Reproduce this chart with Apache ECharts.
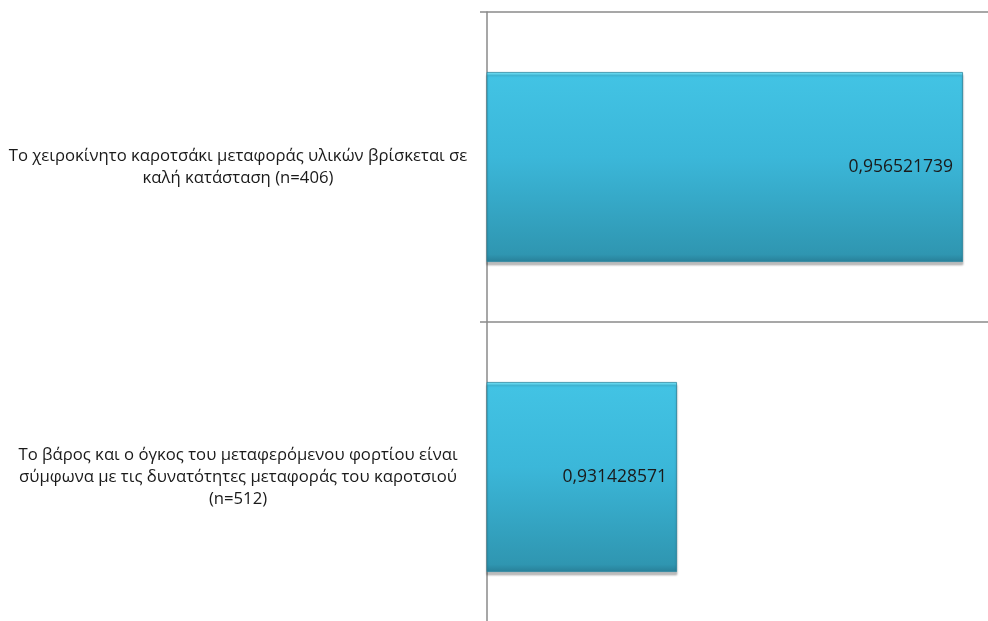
<!DOCTYPE html>
<html>
<head>
<meta charset="utf-8">
<script src="https://cdn.jsdelivr.net/npm/echarts@6/dist/echarts.min.js"></script>
<style>html,body{margin:0;padding:0;background:#fff}#c{width:988px;height:621px}</style>
</head>
<body>
<div id="c"></div>
<script>
const categories = [
  "Το χειροκίνητο καροτσάκι μεταφοράς υλικών βρίσκεται σε\nκαλή κατάσταση (n=406)",
  "Το βάρος και ο όγκος του μεταφερόμενου φορτίου είναι\nσύμφωνα με τις δυνατότητες μεταφοράς του καροτσιού\n(n=512)"
];
const values = [0.956521739, 0.931428571];
const valueLabels = ["0,956521739", "0,931428571"];

const chart = echarts.init(document.getElementById('c'));
chart.setOption({
  animation: false,
  backgroundColor: '#fff',
  grid: { left: 487, width: 520, top: 12, height: 620, containLabel: false, outerBoundsMode: 'none' },
  xAxis: {
    type: 'value', min: 0.91476, max: 0.91476 + 520 / 11397.6, show: false,
    splitLine: { show: false }
  },
  yAxis: {
    type: 'category', data: categories, inverse: true,
    axisLine: { show: true, lineStyle: { color: '#8a8a8a', width: 1.5 } },
    axisTick: { show: true, length: 7, lineStyle: { color: '#8a8a8a', width: 1.5 } },
    splitLine: { show: true, lineStyle: { color: '#8a8a8a', width: 1.5 } },
    axisLabel: {
      align: 'center', margin: 249,
      fontFamily: 'Open Sans', fontSize: 16.7, lineHeight: 22, color: '#1a1a1a'
    }
  },
  series: [{
    type: 'bar', data: values, barWidth: 190,
    itemStyle: {
      color: new echarts.graphic.LinearGradient(0, 0, 0, 1, [
        { offset: 0, color: '#7ee6f8' },
        { offset: 0.02, color: '#42c3e4' },
        { offset: 0.45, color: '#3bb7d9' },
        { offset: 0.96, color: '#2f96b1' },
        { offset: 1, color: '#287f98' }
      ]),
      borderColor: '#2a86a0', borderWidth: 0.8,
      shadowColor: 'rgba(0,0,0,0.25)', shadowOffsetY: 3, shadowBlur: 2
    },
    label: {
      show: true, position: 'insideRight', distance: 10,
      formatter: p => valueLabels[p.dataIndex],
      fontFamily: 'Open Sans', fontSize: 17.5, color: '#1a1a1a'
    }
  }]
});
</script>
</body>
</html>
